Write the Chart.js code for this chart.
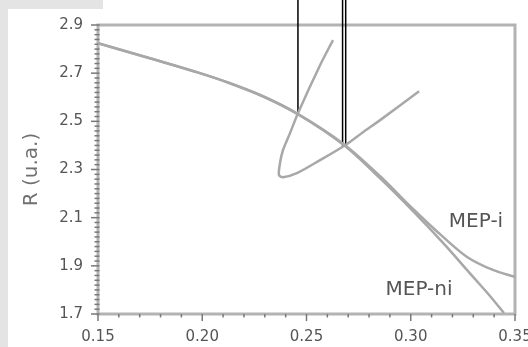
<!DOCTYPE html>
<html>
<head>
<meta charset="utf-8">
<script src="https://cdn.jsdelivr.net/npm/chart.js@4/dist/chart.umd.min.js"></script>
<style>
  html, body { margin: 0; padding: 0; background: #fff; }
  #wrap { position: relative; width: 528px; height: 347px; overflow: hidden; }
  .strip-left { position: absolute; left: 0; top: 0; width: 8px; height: 347px; background: #e4e4e4; }
  .strip-top { position: absolute; left: 0; top: 0; width: 103px; height: 9px; background: #e4e4e4; }
  canvas { position: absolute; left: 0; top: 0; }
</style>
</head>
<body>
<div id="wrap">
  <div class="strip-left"></div>
  <div class="strip-top"></div>
  <canvas id="chart" width="528" height="347"></canvas>
</div>
<script>
// Axis tick labels
const xTicks = [0.15, 0.20, 0.25, 0.30, 0.35];
const yTicks = [1.7, 1.9, 2.1, 2.3, 2.5, 2.7, 2.9];
const xMinorStep = 0.01;
const yMinorStep = 0.02;

// Minimum energy path, interacting (MEP-i)
const mepIx = [0.150, 0.1749, 0.1989, 0.2133, 0.2301, 0.2459, 0.2685, 0.2852, 0.3011, 0.3155, 0.3270, 0.3394, 0.3500];
const mepIy = [2.824, 2.762, 2.700, 2.658, 2.600, 2.530, 2.401, 2.273, 2.136, 2.020, 1.937, 1.883, 1.854];

// Minimum energy path, non-interacting (MEP-ni)
const mepNIx = [0.150, 0.1749, 0.1989, 0.2133, 0.2301, 0.2459, 0.2685, 0.2852, 0.3011, 0.3155, 0.3299, 0.3380, 0.3447];
const mepNIy = [2.824, 2.762, 2.700, 2.658, 2.600, 2.530, 2.397, 2.264, 2.127, 1.995, 1.854, 1.775, 1.704];

// Swallowtail-shaped branch
const loopX = [0.2627, 0.2565, 0.2459, 0.2421, 0.2387, 0.2373, 0.2368, 0.2387, 0.2454, 0.2565, 0.2685, 0.2771, 0.2853, 0.3040];
const loopY = [2.837, 2.733, 2.534, 2.451, 2.380, 2.327, 2.277, 2.268, 2.285, 2.339, 2.401, 2.455, 2.505, 2.625];

// Vertical markers dropping onto the crossing points
const markA_x = [0.2459, 0.2459];
const markA_y = [3.01, 2.530];
const markB_x = [0.2673, 0.2673];
const markB_y = [3.01, 2.398];
const markC_x = [0.2688, 0.2688];
const markC_y = [3.01, 2.398];

// Curve labels
const curveLabels = ['MEP-i', 'MEP-ni'];
const curveLabelX = [0.3313, 0.3040];
const curveLabelY = [2.082, 1.800];

const pts = (xs, ys) => xs.map((x, i) => ({ x: x, y: ys[i] }));

const pathStyle = {
  showLine: true, pointRadius: 0, borderColor: '#a8a8a8', borderWidth: 2.5,
  cubicInterpolationMode: 'monotone', fill: false
};
const loopStyle = {
  showLine: true, pointRadius: 0, borderColor: '#a8a8a8', borderWidth: 2.5,
  tension: 0.3, fill: false
};
const markStyle = {
  showLine: true, pointRadius: 0, borderColor: '#000', borderWidth: 1.5,
  tension: 0, fill: false, clip: false
};

// Frame and major/minor tick marks
const framePlugin = {
  id: 'frame',
  beforeDatasetsDraw(chart) {
    const { ctx, chartArea: a, scales: { x, y } } = chart;
    ctx.save();
    ctx.strokeStyle = '#b3b3b3';
    ctx.lineWidth = 3;
    ctx.strokeRect(a.left, a.top, a.right - a.left, a.bottom - a.top);

    ctx.strokeStyle = '#787878';
    ctx.lineWidth = 1.5;
    const nx = Math.round((x.max - x.min) / xMinorStep);
    for (let i = 0; i <= nx; i++) {
      const px = x.getPixelForValue(x.min + i * xMinorStep);
      const len = (i % 5 === 0) ? 7 : 3.5;
      ctx.beginPath();
      ctx.moveTo(px, a.bottom);
      ctx.lineTo(px, a.bottom + len);
      ctx.stroke();
    }
    const ny = Math.round((y.max - y.min) / yMinorStep);
    for (let i = 0; i <= ny; i++) {
      const py = y.getPixelForValue(y.min + i * yMinorStep);
      const len = (i % 10 === 0) ? 7 : 3.5;
      ctx.beginPath();
      ctx.moveTo(a.left - len, py);
      ctx.lineTo(a.left + 1.5, py);
      ctx.stroke();
    }
    ctx.restore();
  },
  afterDatasetsDraw(chart) {
    const { ctx, scales: { x, y } } = chart;
    ctx.save();
    ctx.fillStyle = '#555';
    ctx.font = '20px "DejaVu Sans"';
    ctx.textAlign = 'center';
    ctx.textBaseline = 'middle';
    curveLabels.forEach((t, i) => {
      ctx.fillText(t, x.getPixelForValue(curveLabelX[i]), y.getPixelForValue(curveLabelY[i]));
    });
    ctx.restore();
  }
};

new Chart(document.getElementById('chart'), {
  type: 'scatter',
  data: {
    datasets: [
      Object.assign({ label: 'MEP-i', data: pts(mepIx, mepIy) }, pathStyle),
      Object.assign({ label: 'MEP-ni', data: pts(mepNIx, mepNIy) }, pathStyle),
      Object.assign({ label: 'branch', data: pts(loopX, loopY) }, loopStyle),
      Object.assign({ label: 'a', data: pts(markA_x, markA_y) }, markStyle),
      Object.assign({ label: 'b', data: pts(markB_x, markB_y) }, markStyle),
      Object.assign({ label: 'c', data: pts(markC_x, markC_y) }, markStyle)
    ]
  },
  options: {
    responsive: false,
    animation: false,
    devicePixelRatio: 1,
    layout: { padding: { left: 0, top: 25, right: 13, bottom: 0 } },
    plugins: { legend: { display: false }, tooltip: { enabled: false } },
    scales: {
      x: {
        type: 'linear', min: 0.15, max: 0.35,
        grid: { display: false, drawTicks: false },
        border: { display: false },
        ticks: {
          font: { family: 'DejaVu Sans', size: 15 }, color: '#555',
          padding: 14, autoSkip: false, maxRotation: 0,
          callback: v => Number(v).toFixed(2)
        },
        afterBuildTicks: s => { s.ticks = xTicks.map(v => ({ value: v })); },
        afterFit: s => { s.height = 33; s.paddingLeft = 0; s.paddingRight = 0; }
      },
      y: {
        type: 'linear', min: 1.7, max: 2.9,
        grid: { display: false, drawTicks: false },
        border: { display: false },
        title: {
          display: true, text: 'R (u.a.)', color: '#707070',
          font: { family: 'DejaVu Sans', size: 20 },
          padding: { top: 20, bottom: 0 }
        },
        ticks: {
          font: { family: 'DejaVu Sans', size: 15 }, color: '#555',
          padding: 15, autoSkip: false,
          callback: v => Number(v).toFixed(1)
        },
        afterBuildTicks: s => { s.ticks = yTicks.map(v => ({ value: v })); },
        afterFit: s => { s.width = 98; s.paddingTop = 0; s.paddingBottom = 0; }
      }
    }
  },
  plugins: [framePlugin]
});
</script>
</body>
</html>
